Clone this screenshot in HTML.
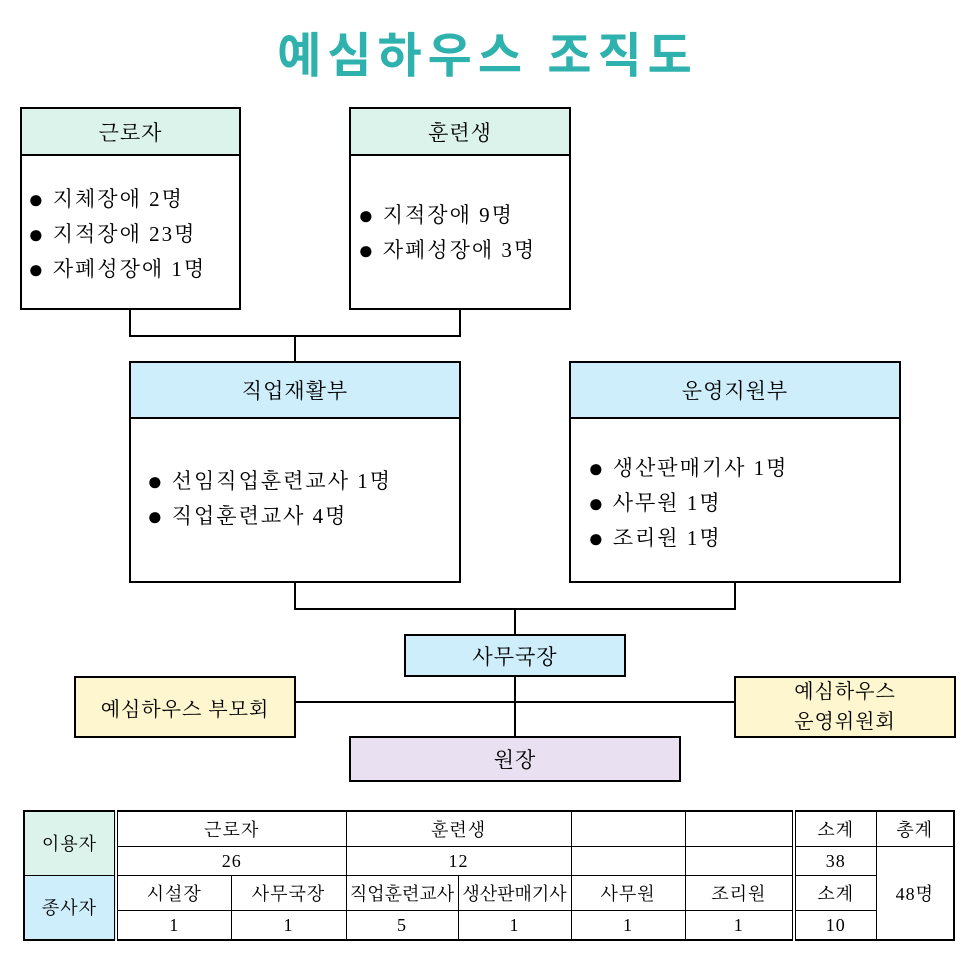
<!DOCTYPE html>
<html><head><meta charset="utf-8"><style>
body{margin:0;width:975px;height:975px;background:#fff;position:relative;font-family:"Liberation Serif","Noto Serif CJK SC",serif;overflow:hidden}
.a{position:absolute;box-sizing:border-box}
.box{border:2px solid #000;background:#fff}
.hd{position:absolute;left:0;right:0;top:0;border-bottom:2px solid #000;display:flex;align-items:center;justify-content:center;font-size:21px;letter-spacing:1px}
.l{position:absolute;background:#000}
.it{position:absolute;font-size:21px;line-height:34px;white-space:nowrap;letter-spacing:2px}
.b{font-size:26px;letter-spacing:0;margin-right:9px;vertical-align:-2px}
.c{display:flex;align-items:center;justify-content:center;font-size:20px;text-align:center;letter-spacing:1px}
table{position:absolute;left:23px;top:810px;width:930px;height:131px;border-collapse:collapse;border:2px solid #000;font-size:18px;table-layout:fixed}
td{border:1px solid #000;text-align:center;padding:0;letter-spacing:1px}
</style></head><body>
<div class="a" style="left:0;width:975px;top:16px;text-align:center;font-family:'Liberation Sans','Noto Sans CJK KR',sans-serif;font-size:48px;font-weight:bold;color:#2fb2ad;letter-spacing:6px">예심하우스 조직도</div>

<div class="a box" style="left:20px;top:107px;width:221px;height:203px"><div class="hd" style="height:45px;background:#dcf3ec">근로자</div>
<div class="it" style="left:6px;top:73px"><span class="b">●</span>지체장애 2명<br><span class="b">●</span>지적장애 23명<br><span class="b">●</span>자폐성장애 1명</div></div>
<div class="a box" style="left:349px;top:107px;width:222px;height:203px"><div class="hd" style="height:45px;background:#dcf3ec">훈련생</div>
<div class="it" style="left:7px;top:89px"><span class="b">●</span>지적장애 9명<br><span class="b">●</span>자폐성장애 3명</div></div>

<div class="l" style="left:129px;top:309px;width:2px;height:28px"></div>
<div class="l" style="left:459px;top:309px;width:2px;height:28px"></div>
<div class="l" style="left:129px;top:335px;width:332px;height:2px"></div>
<div class="l" style="left:294px;top:335px;width:2px;height:28px"></div>

<div class="a box" style="left:129px;top:361px;width:332px;height:222px"><div class="hd" style="height:54px;background:#cdeefa">직업재활부</div>
<div class="it" style="left:16px;top:101px"><span class="b">●</span>선임직업훈련교사 1명<br><span class="b">●</span>직업훈련교사 4명</div></div>
<div class="a box" style="left:569px;top:361px;width:332px;height:222px"><div class="hd" style="height:54px;background:#cdeefa">운영지원부</div>
<div class="it" style="left:17px;top:88px"><span class="b">●</span>생산판매기사 1명<br><span class="b">●</span>사무원 1명<br><span class="b">●</span>조리원 1명</div></div>

<div class="l" style="left:294px;top:582px;width:2px;height:28px"></div>
<div class="l" style="left:734px;top:582px;width:2px;height:28px"></div>
<div class="l" style="left:294px;top:608px;width:442px;height:2px"></div>
<div class="l" style="left:514px;top:608px;width:2px;height:130px"></div>
<div class="l" style="left:294px;top:701px;width:442px;height:2px"></div>

<div class="a box c" style="left:404px;top:634px;width:222px;height:43px;background:#cdeefa;font-size:21px">사무국장</div>
<div class="a box c" style="left:74px;top:676px;width:222px;height:62px;background:#fdf6cf">예심하우스 부모회</div>
<div class="a box c" style="left:734px;top:676px;width:222px;height:62px;background:#fdf6cf;line-height:30px">예심하우스<br>운영위원회</div>
<div class="a box c" style="left:349px;top:736px;width:332px;height:46px;background:#e9e0f1;font-size:21px">원장</div>

<table>
<colgroup><col style="width:92px"><col style="width:115px"><col style="width:115px"><col style="width:112px"><col style="width:113px"><col style="width:114px"><col style="width:109px"><col style="width:82px"><col style="width:78px"></colgroup>
<tr><td rowspan="2" style="background:#dcf3ec;border-right:4px double #000">이용자</td><td colspan="2">근로자</td><td colspan="2">훈련생</td><td></td><td></td><td style="border-left:4px double #000">소계</td><td>총계</td></tr>
<tr><td colspan="2">26</td><td colspan="2">12</td><td></td><td></td><td style="border-left:4px double #000">38</td><td rowspan="3">48명</td></tr>
<tr><td rowspan="2" style="background:#cdeefa;border-right:4px double #000">종사자</td><td>시설장</td><td>사무국장</td><td style="letter-spacing:0">직업훈련교사</td><td style="letter-spacing:0">생산판매기사</td><td>사무원</td><td>조리원</td><td style="border-left:4px double #000">소계</td></tr>
<tr><td>1</td><td>1</td><td>5</td><td>1</td><td>1</td><td>1</td><td style="border-left:4px double #000">10</td></tr>
</table>
</body></html>
